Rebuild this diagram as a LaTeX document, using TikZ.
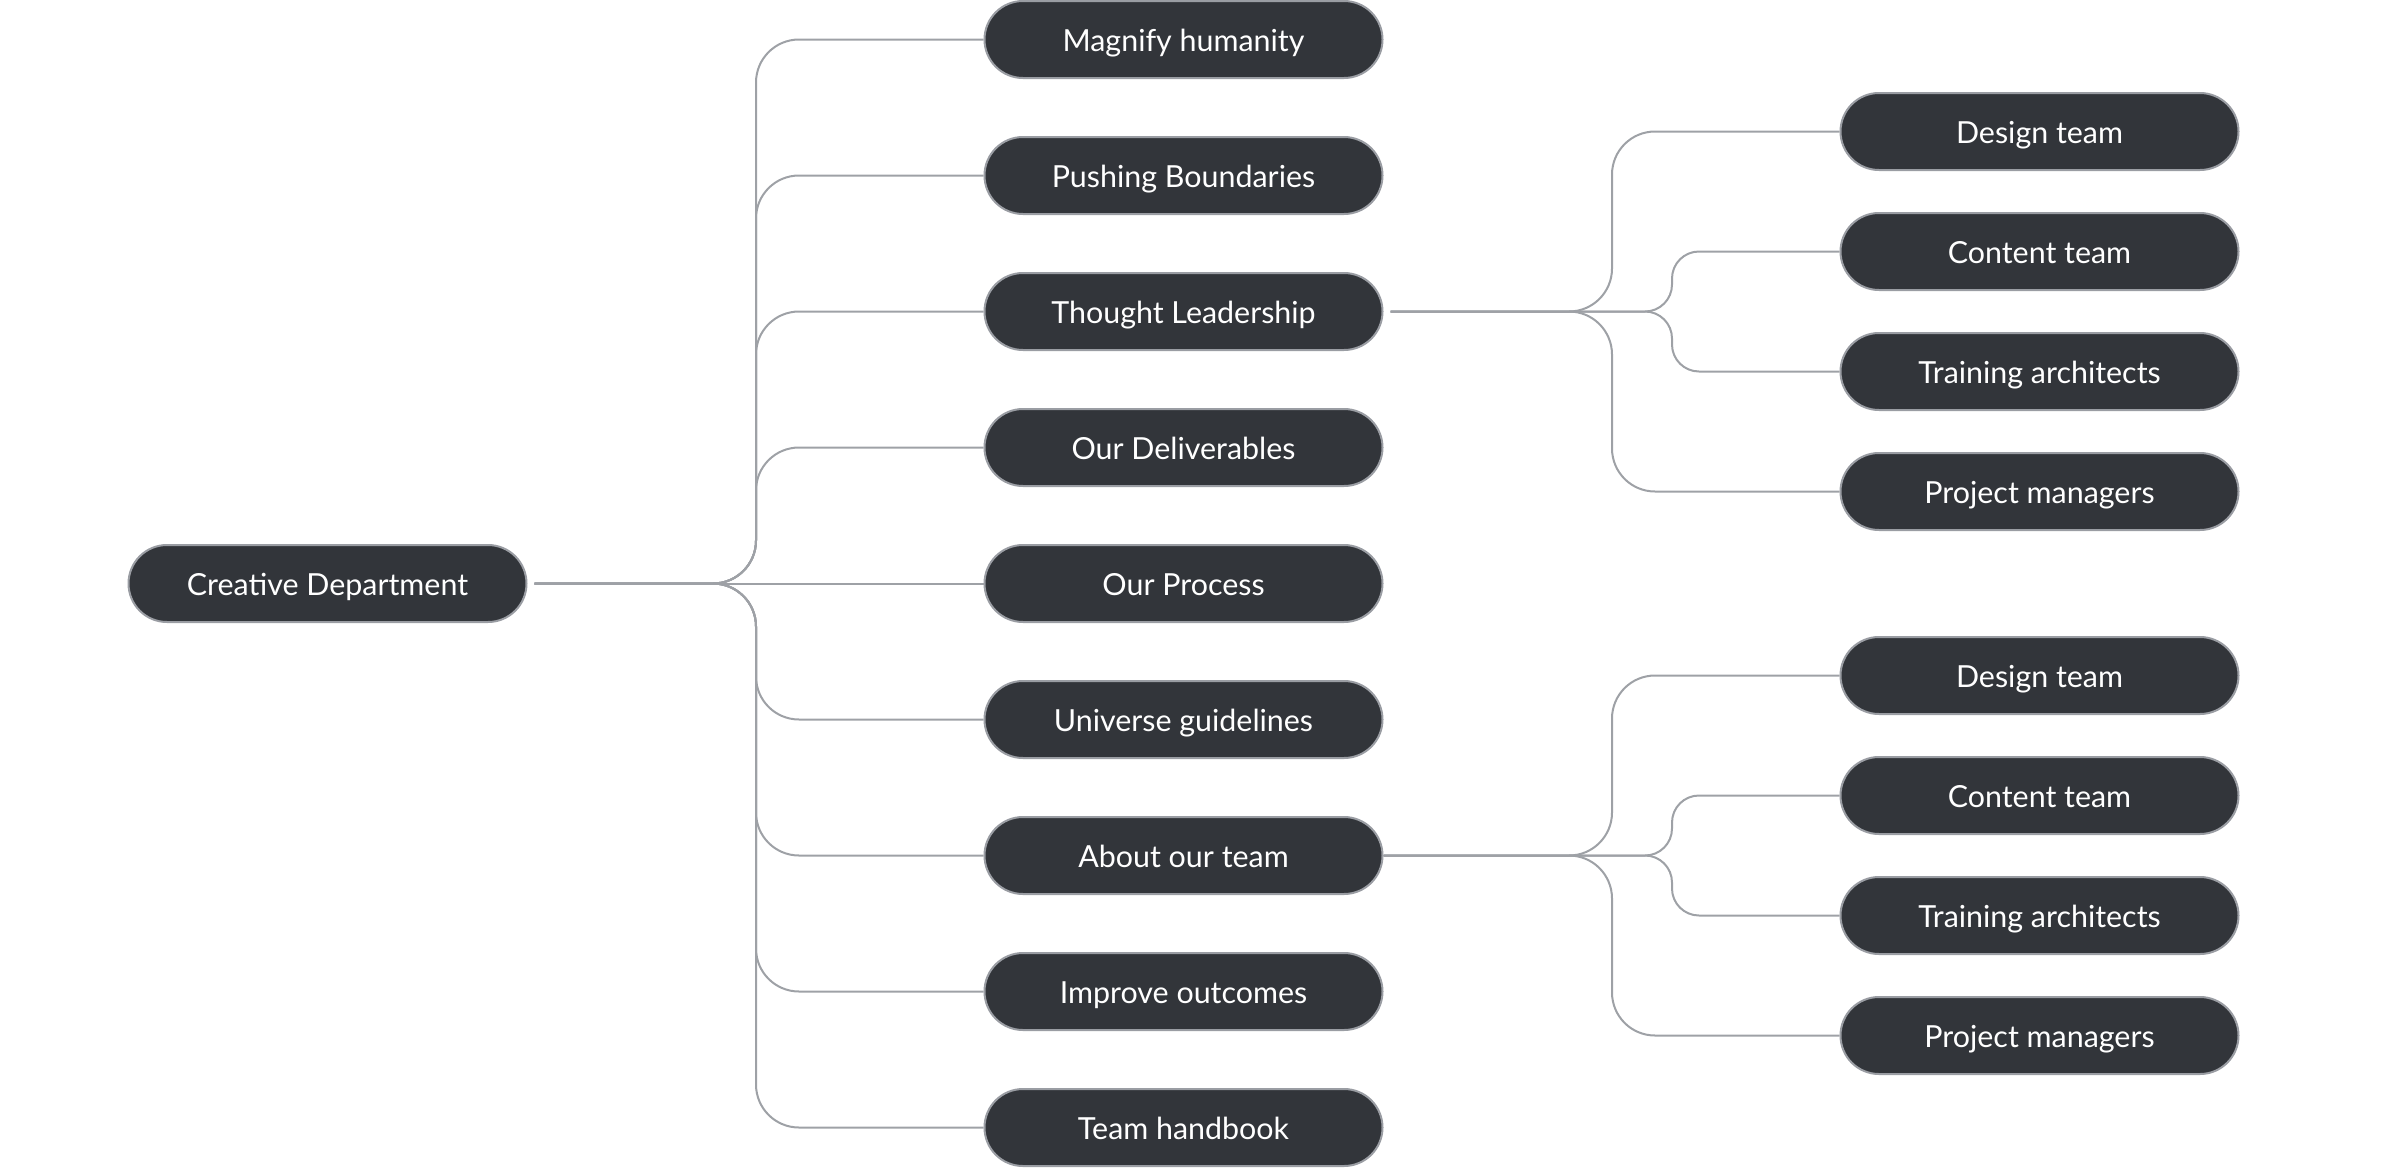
\documentclass[tikz,border=0pt]{standalone}
\usepackage{fontspec}
\setmainfont{Lato}
\definecolor{nodefill}{HTML}{32353A}
\definecolor{nodeborder}{HTML}{9A9DA3}
\definecolor{linecol}{HTML}{9EA1A6}
\begin{document}
\begin{tikzpicture}[x=0.5pt,y=-0.5pt,
  pill/.style={draw=nodeborder, fill=nodefill, line width=1pt, rounded corners=19.25pt,
    minimum width=199pt, minimum height=38.5pt, text=white, inner sep=0pt,
    text height=13.3pt, text depth=1.7pt,
    font=\fontsize{15.2}{18}\selectfont},
  conn/.style={draw=linecol, line width=1pt, rounded corners=21.5pt},
  conninner/.style={draw=linecol, line width=1pt, rounded corners=13.5pt}]
\useasboundingbox (0,0) rectangle (2400,1168);

% root
\node[pill] (root) at (327.5,583.5) {Creative Department};

% level 1
\foreach \n/\y/\t in {a1/39.5/Magnify humanity, a2/175.5/Pushing Boundaries,
  a3/311.5/Thought Leadership, a4/447.5/Our Deliverables, a5/583.5/Our Process,
  a6/719.5/Universe guidelines, a7/855.5/About our team, a8/991.5/Improve outcomes,
  a9/1127.5/Team handbook}
  \node[pill] (\n) at (1183.5,\y) {\t};

% level 2
\foreach \n/\y/\t in {b1/131.5/Design team, b2/251.5/Content team,
  b3/371.5/Training architects, b4/491.5/Project managers,
  c1/675.5/Design team, c2/795.5/Content team,
  c3/915.5/Training architects, c4/1035.5/Project managers}
  \node[pill] (\n) at (2039.5,\y) {\t};

% junction coordinates
\coordinate (t1) at (756,583.5);
\coordinate (t2) at (1612,311.5);
\coordinate (u2) at (1672,311.5);
\coordinate (t3) at (1612,855.5);
\coordinate (u3) at (1672,855.5);

% root connectors
\foreach \c in {a1,a2,a3,a4,a6,a7,a8,a9}
  \draw[conn, shorten <=3.5pt] (root.east) -- (t1) -- (t1 |- \c.west) -- (\c.west);
\draw[conn, shorten <=3.5pt] (root.east) -- (a5.west);

% Thought Leadership connectors
\foreach \c in {b1,b4}
  \draw[conn, shorten <=3.5pt] (a3.east) -- (t2) -- (t2 |- \c.west) -- (\c.west);
\foreach \c in {b2,b3}
  \draw[conninner, shorten <=3.5pt] (a3.east) -- (u2) -- (u2 |- \c.west) -- (\c.west);

% About our team connectors
\foreach \c in {c1,c4}
  \draw[conn] (a7.east) -- (t3) -- (t3 |- \c.west) -- (\c.west);
\foreach \c in {c2,c3}
  \draw[conninner] (a7.east) -- (u3) -- (u3 |- \c.west) -- (\c.west);
\end{tikzpicture}
\end{document}
